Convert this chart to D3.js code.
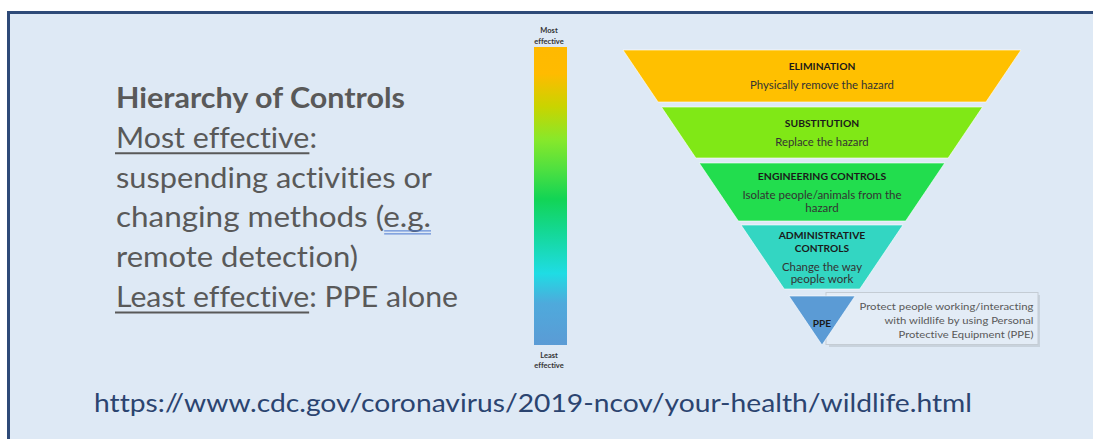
<!DOCTYPE html>
<html><head><meta charset="utf-8">
<script src="https://cdn.jsdelivr.net/npm/d3@7"></script>
<style>html,body{margin:0;padding:0;background:#fff;overflow:hidden}
svg{display:block} text{font-variant-ligatures:none;font-feature-settings:"liga" 0,"clig" 0}</style>
</head><body>
<script>
// ---------- data ----------
const levels = ["ELIMINATION","SUBSTITUTION","ENGINEERING CONTROLS","ADMINISTRATIVE CONTROLS","PPE"];
const titleLines = [["ELIMINATION"],["SUBSTITUTION"],["ENGINEERING CONTROLS"],["ADMINISTRATIVE","CONTROLS"],["PPE"]];
const descLines = [["Physically remove the hazard"],["Replace the hazard"],["Isolate people/animals from the","hazard"],["Change the way","people work"],[]];
const levelColors = ["#ffc000","#80e816","#22dd4e","#33d6c2","#5b9bd5"];
// band extents along the pyramid depth (0 = top edge, 295 = apex)
const bandStart = [0, 57, 113, 175, 246];
const bandEnd   = [52, 108, 171, 239, 295];
const ppeNote = ["Protect people working/interacting","with wildlife by using Personal","Protective Equipment (PPE)"];
const gradientOffsets = [0, 0.09, 0.2, 0.31, 0.41, 0.51, 0.62, 0.76, 0.86, 1];
const gradientColors  = ["#ffb900","#ffbb00","#c9d400","#88e82a","#4fe040","#12d455","#14d895","#1fdce4","#4eaadc","#5b9bd5"];
const barTopLabel = ["Most","effective"];
const barBottomLabel = ["Least","effective"];
const leftLines = ["Hierarchy of Controls","Most effective:","suspending activities or","changing methods (e.g.","remote detection)","Least effective: PPE alone"];
const urlText = "https://www.cdc.gov/coronavirus/2019-ncov/your-health/wildlife.html";

// ---------- layout ----------
const W = 1093, H = 439;
const svg = d3.select("body").append("svg").attr("width", W).attr("height", H)
  .style("overflow","hidden");
svg.append("rect").attr("x",0).attr("y",0).attr("width",W).attr("height",H).attr("fill","#fff");
svg.append("rect").attr("x",8).attr("y",12).attr("width",W).attr("height",H).attr("fill","#dee9f5");
svg.append("path").attr("d", `M8.5,${H} L8.5,12.5 L${W},12.5`)
  .attr("fill","none").attr("stroke","#2e4a78").attr("stroke-width",3);

const FONT = "Lato, 'Open Sans', sans-serif";

function measure(t, size, weight) {
  const tmp = svg.append("text").attr("font-family", FONT).attr("font-size", size)
    .attr("font-weight", weight).text(t);
  const w = tmp.node().getComputedTextLength();
  tmp.remove();
  return w;
}

// left text block
const leftWidths = [289, 201, 316, 315, 242, 342];
const leftX = 116, leftBase0 = 108, leftStep = 39.8;
leftLines.forEach((t, i) => {
  const weight = i === 0 ? 700 : 400;
  const el = svg.append("text").attr("x", leftX).attr("y", leftBase0 + i*leftStep)
    .attr("font-family", FONT).attr("font-size", 28).attr("fill", "#595959")
    .attr("font-weight", weight).text(t);
  const natural = measure(t, 28, weight);
  const k = leftWidths[i] / natural;
  el.attr("textLength", leftWidths[i]).attr("lengthAdjust", "spacingAndGlyphs");
  const under = (sub, color, dbl) => {
    const s = t.indexOf(sub);
    const x0 = leftX + (s > 0 ? measure(t.slice(0, s), 28, weight) : 0) * k;
    const x1 = leftX + measure(t.slice(0, s + sub.length), 28, weight) * k;
    const y = leftBase0 + i*leftStep;
    if (dbl) {
      [3.5, 6.5].forEach(d => svg.append("line").attr("x1",x0).attr("x2",x1).attr("y1",y+d).attr("y2",y+d)
        .attr("stroke",color).attr("stroke-width",1));
    } else {
      svg.append("line").attr("x1",x0-1).attr("x2",x1).attr("y1",y+5.5).attr("y2",y+5.5)
        .attr("stroke",color).attr("stroke-width",2);
    }
  };
  if (i === 1) under("Most effective", "#595959");
  if (i === 5) under("Least effective", "#595959");
  if (i === 3) under("e.g.", "#4a78d0", true);
});

// colour bar
const defs = svg.append("defs");
const grad = defs.append("linearGradient").attr("id","effGrad").attr("x1",0).attr("x2",0).attr("y1",0).attr("y2",1);
grad.selectAll("stop").data(gradientOffsets).join("stop")
  .attr("offset", d => d).attr("stop-color", (d,i) => gradientColors[i]);
const barY = d3.scaleLinear().domain([0,1]).range([47, 345]);
svg.append("rect").attr("x",534).attr("y",barY(0)).attr("width",33).attr("height",barY(1)-barY(0))
  .attr("fill","url(#effGrad)");
barTopLabel.forEach((t,i) => svg.append("text").attr("x",549).attr("y",33 + i*11)
  .attr("text-anchor","middle").attr("font-family",FONT).attr("font-weight",700)
  .attr("font-size",7.5).attr("fill","#333").text(t));
barBottomLabel.forEach((t,i) => svg.append("text").attr("x",549).attr("y",357.5 + i*10.5)
  .attr("text-anchor","middle").attr("font-family",FONT).attr("font-weight",700)
  .attr("font-size",7.5).attr("fill","#333").text(t));

// pyramid
const cx = 822;
const depthY = d3.scaleLinear().domain([0, 295]).range([50, 345]);
const halfW = d3.scaleLinear().domain([0, 295]).range([199, 0]);

// PPE call-out box (behind triangle)
svg.append("rect").attr("x",829).attr("y",295).attr("width",211).attr("height",52)
  .attr("fill","#b9c3cc").attr("opacity",0.6);
svg.append("rect").attr("x",826).attr("y",292.5).attr("width",212).attr("height",52)
  .attr("fill","#e3ecf6").attr("stroke","#c4ccd4").attr("stroke-width",1);
const noteW = [174, 149, 135];
ppeNote.forEach((t,i) => svg.append("text").attr("x",1033.5).attr("y",309.5 + i*14.2)
  .attr("text-anchor","end").attr("font-family",FONT).attr("font-size",10.3).attr("fill","#595959")
  .attr("textLength", noteW[i]).attr("lengthAdjust","spacingAndGlyphs").text(t));

svg.append("g").selectAll("path").data(levels).join("path")
  .attr("d", (d,i) => {
    const a = bandStart[i], b = bandEnd[i];
    const pts = [[cx-halfW(a), depthY(a)],[cx+halfW(a), depthY(a)],[cx+halfW(b), depthY(b)],[cx-halfW(b), depthY(b)]];
    return d3.line()(pts) + "Z";
  })
  .attr("fill", (d,i) => levelColors[i])
  .attr("stroke","#ffffff").attr("stroke-opacity",0.6).attr("stroke-width",1);

const titleW = {"ELIMINATION":66.7,"SUBSTITUTION":74.3,"ENGINEERING CONTROLS":128.3,"ADMINISTRATIVE":86.7,"CONTROLS":54.3,"PPE":18.3};
const descW = {"Physically remove the hazard":144,"Replace the hazard":93.3,"Isolate people/animals from the":159,"hazard":33.3,"Change the way":80,"people work":62.7};
const titleY = [[69.5],[127],[179.5],[239,251.5]];
const descY = [[89],[145.5],[199,211.5],[270.5,283]];
levels.forEach((lv,i) => {
  if (i === 4) {
    svg.append("text").attr("x",cx).attr("y",326.5).attr("text-anchor","middle")
      .attr("font-family",FONT).attr("font-weight",700).attr("font-size",10).attr("fill","#1a1a1a")
      .attr("textLength",titleW.PPE).attr("lengthAdjust","spacingAndGlyphs").text("PPE");
    return;
  }
  titleLines[i].forEach((t,j) => svg.append("text").attr("x",cx).attr("y",titleY[i][j])
    .attr("text-anchor","middle").attr("font-family",FONT).attr("font-weight",700)
    .attr("font-size",10).attr("fill","#1a1a1a")
    .attr("textLength",titleW[t]).attr("lengthAdjust","spacingAndGlyphs").text(t));
  descLines[i].forEach((t,j) => svg.append("text").attr("x",cx).attr("y",descY[i][j])
    .attr("text-anchor","middle").attr("font-family",FONT).attr("font-weight",400)
    .attr("font-size",10.5).attr("fill","#333")
    .attr("textLength",descW[t]).attr("lengthAdjust","spacingAndGlyphs").text(t));
});

// URL
svg.append("text").attr("x",94).attr("y",412).attr("font-family",FONT).attr("font-size",25)
  .attr("fill","#2b4470").attr("textLength",878).attr("lengthAdjust","spacingAndGlyphs").text(urlText);
</script>
</body></html>
